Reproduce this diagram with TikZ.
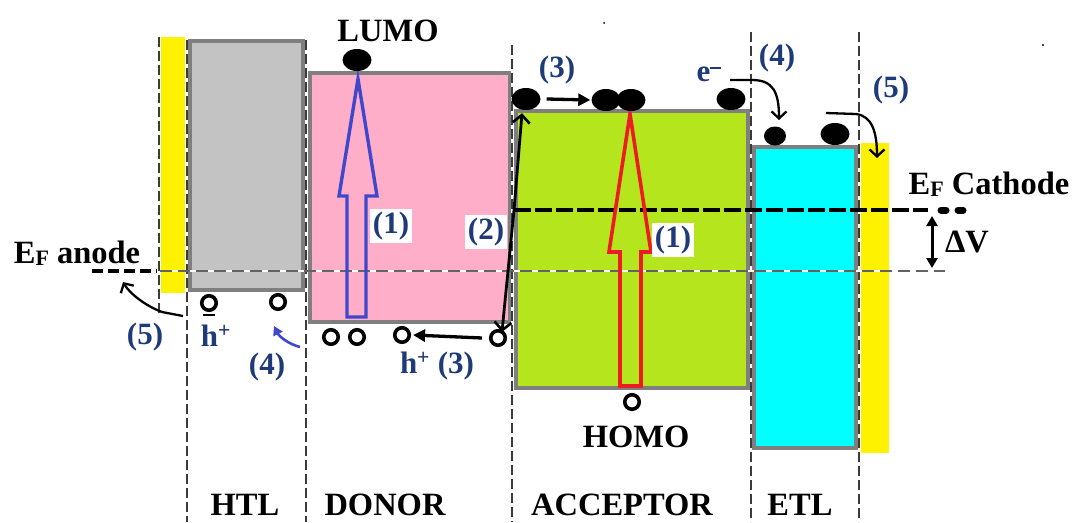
\documentclass[tikz,border=0pt]{standalone}
\usepackage{fontspec}
\setmainfont{Liberation Serif}
\usetikzlibrary{shapes.geometric, arrows.meta}
\definecolor{pinkD}{HTML}{FFAEC9}
\definecolor{limeA}{HTML}{B5E61D}
\definecolor{cyanE}{HTML}{00FFFF}
\definecolor{yelM}{HTML}{FFF200}
\definecolor{grayH}{HTML}{C3C3C3}
\definecolor{grayB}{HTML}{7F7F7F}
\definecolor{dashG}{HTML}{3C3C3C}
\definecolor{indigoA}{HTML}{3F48CC}
\definecolor{redA}{HTML}{ED1C24}
\definecolor{navyT}{HTML}{1F3A78}
\newcommand{\myEF}{E\raisebox{-1.5pt}{\fontsize{22}{22}\selectfont F}}
\begin{document}
\begin{tikzpicture}[x=1pt,y=-1pt,
  band/.style={draw=grayB, line width=4.5pt},
  vdash/.style={draw=dashG, line width=2.3pt, dash pattern=on 10pt off 4pt},
  elec/.style={ellipse, fill=black, inner sep=0pt, minimum width=29pt, minimum height=22pt},
  selec/.style={ellipse, fill=black, inner sep=0pt, minimum width=22pt, minimum height=19pt},
  hole/.style={circle, draw=black, fill=white, line width=3.6pt, inner sep=0pt, minimum size=14.5pt},
  ttl/.style={font=\fontsize{32.5}{34}\selectfont\bfseries, text=black, inner sep=0pt},
  lab/.style={font=\fontsize{31}{33}\selectfont\bfseries, text=navyT, inner sep=0pt},
  labw/.style={lab, fill=white, inner sep=3pt},
  barb/.style={line width=2.8pt},
  tri/.style={-{Triangle[length=12pt,width=12pt]}, line width=3.3pt},
  curv/.style={-{Straight Barb[length=7pt,width=15pt,line width=2.3pt]}, line width=2.3pt}]
\useasboundingbox (0,0) rectangle (1075,522);

% ---------- layers ----------
\fill[yelM] (161,37) rectangle (185,293);
\filldraw[band, fill=grayH] (190,41) rectangle (303,290);
\filldraw[band, fill=pinkD] (310,73) rectangle (510,322);
\filldraw[band, fill=limeA] (516,111) rectangle (748,388);
\filldraw[band, fill=cyanE] (754,147) rectangle (856,448);
\fill[yelM] (861,143) rectangle (889,453);

% ---------- vertical dashed separators ----------
\foreach \x/\a/\b in {159/37/317, 187/40/522, 306/40/522, 512/45/522, 751/32/522, 859/32/522}{
  \draw[white, line width=2.3pt] (\x,\a) -- (\x,\b);
  \draw[vdash] (\x,\a) -- (\x,\b);
}

% ---------- Fermi levels ----------
\coordinate (fa1) at (92,271);
\coordinate (fa2) at (157,271);
\coordinate (ft1) at (160,271);
\coordinate (ft2) at (945,271);
\draw[white, line width=1.4pt] (ft1) -- (ft2);
\draw[dashG!80, line width=1.4pt, dash pattern=on 12pt off 6pt] (ft1) -- (ft2);
\draw[black, line width=3.6pt, dash pattern=on 11pt off 5pt] (fa1) -- (fa2);
\coordinate (fc1) at (514,210);
\coordinate (fc2) at (928,210);
\coordinate (fc3) at (941,210);
\coordinate (fc4) at (964,210);
\draw[black, line width=4.8pt, dash pattern=on 17pt off 4pt] (fc1) -- (fc2);
\draw[black, line width=7pt, line cap=round, dash pattern=on 5pt off 12pt] (fc3) -- (fc4);
\coordinate (dv1) at (932,216);
\coordinate (dv2) at (932,268);
\draw[{Triangle[length=10pt,width=11pt]}-{Triangle[length=10pt,width=11pt]}, line width=3pt] (dv1) -- (dv2);

% ---------- hollow excitation arrows ----------
\draw[indigoA, line width=3.4pt, line join=miter]
  (347,317) -- (347,196) -- (339,196) -- (358,79) -- (377,196) -- (366,196) -- (366,317) -- cycle;
\draw[redA, line width=3.6pt, line join=miter]
  (620,386) -- (620,252) -- (609,252) -- (630,114) -- (651,252) -- (641,252) -- (641,386) -- cycle;

% ---------- electrons ----------
\node[elec] (eL) at (357,60) {};
\node[elec] (eA1) at (526,99) {};
\node[elec] (eA2) at (606,100) {};
\node[elec] (eA3) at (631,100) {};
\node[elec] (eA4) at (731,99) {};
\node[selec] (eE1) at (775,136) {};
\node[elec] (eE2) at (835,134) {};

% ---------- holes ----------
\node[hole] (hH1) at (209,303) {};
\node[hole] (hH2) at (278,302) {};
\node[hole] (hD1) at (331,337) {};
\node[hole] (hD2) at (357,337) {};
\node[hole] (hD3) at (402,335) {};
\node[hole] (hD4) at (498,338) {};
\node[hole] (hA) at (632,402) {};
\draw[black, line width=1.8pt] ([xshift=-6pt,yshift=-3pt]hH1.south) -- ([xshift=6pt,yshift=-3pt]hH1.south);

% ---------- transfer arrows ----------
\draw[tri] ([xshift=6pt]eA1.east) -- ([xshift=-1pt]eA2.west);
\draw[tri] ([xshift=-7pt]hD4.west) -- ([xshift=2pt]hD3.east);
\coordinate (cmid) at (514,210);
\draw[barb, {Straight Barb[length=8pt,width=17pt,line width=2.6pt]}-{Straight Barb[length=8pt,width=17pt,line width=2.6pt]}]
  ([xshift=4pt,yshift=-3pt]hD4.north) -- (cmid) -- ([xshift=-4pt,yshift=-3pt]eA1.south);

% right (4) and (5)
\coordinate (r4a) at (730,80);
\coordinate (r4b) at (752,80);
\coordinate (r4c) at (779,120);
\draw[curv] (r4a) -- (r4b) .. controls (773,80) and (779,92) .. (r4c);
\coordinate (r5a) at (826,113);
\coordinate (r5b) at (856,114);
\coordinate (r5c) at (877,158);
\draw[curv] (r5a) -- (r5b) .. controls (872,116) and (877,132) .. (r5c);
% left (5)
\coordinate (l5a) at (183,316);
\coordinate (l5b) at (162,312);
\coordinate (l5c) at (123,282);
\draw[curv] (l5a) -- (l5b) .. controls (146,306) and (130,294) .. (l5c);
% left blue (4)
\coordinate (l4a) at (300,347);
\coordinate (l4b) at (274,326);
\draw[indigoA, line width=2.6pt, -{Triangle[length=9pt,width=10pt]}] (l4a) .. controls (288,344) and (279,336) .. (l4b);

% ---------- texts ----------
\node[ttl] (tLUMO) at (388,31) {LUMO};
\node[ttl] (tHOMO) at (636,437) {HOMO};
\node[ttl] (tHTL) at (245,505) {HTL};
\node[ttl] (tDON) at (385,505) {DONOR};
\node[ttl] (tACC) at (622,505) {ACCEPTOR};
\node[ttl] (tETL) at (800,505) {ETL};
\node[ttl] (tEFa) at (77,253) {\myEF\ anode};
\node[ttl] (tEFc) at (989,184) {\myEF\ Cathode};
\node[ttl] (tDV) at (967,242) {ΔV};

\node[labw] (n1a) at (391,226) {(1)};
\node[labw] (n2) at (486,232) {(2)};
\node[labw] (n1b) at (673,240) {(1)};
\node[lab] (n3a) at (557,70) {(3)};
\node[lab] (n4a) at (777,58) {(4)};
\node[lab] (n5a) at (891,90) {(5)};
\node[lab] (ne) at (709,74) {e\raisebox{12pt}{\rule{11pt}{1.8pt}}};
\node[lab] (nh1) at (216,336) {h\textsuperscript{+}};
\node[lab] (n5b) at (145,337) {(5)};
\node[lab] (n4b) at (267,367) {(4)};
\node[lab] (nh3) at (437,366) {h\textsuperscript{+} (3)};

% specks
\fill[black] (604,23) circle (1pt);
\fill[black] (1043,45) circle (1.2pt);
\end{tikzpicture}
\end{document}
